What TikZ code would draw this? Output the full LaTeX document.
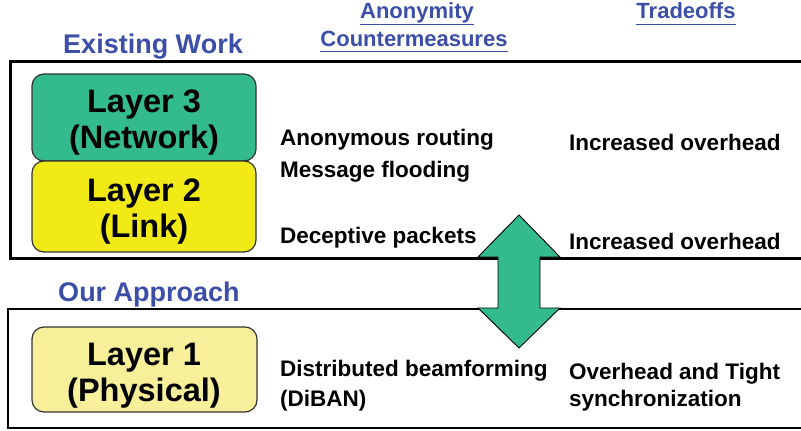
\documentclass[tikz,border=0pt]{standalone}
\usepackage{fontspec}
\setmainfont{Liberation Sans}
\definecolor{hdrblue}{HTML}{3B4FA8}
\definecolor{netgreen}{HTML}{33BB8E}
\definecolor{linkyellow}{HTML}{F2EA16}
\definecolor{physyellow}{HTML}{F7EF9A}
\begin{document}
\begin{tikzpicture}[x=1pt,y=-1pt,
  txt/.style={anchor=base west, inner sep=0pt, font=\fontsize{22.5}{27}\selectfont\bfseries},
  hdr/.style={anchor=base, inner sep=0pt, text=hdrblue, font=\fontsize{22}{26}\selectfont\bfseries},
  ttl/.style={anchor=base, inner sep=0pt, text=hdrblue, font=\fontsize{27}{32}\selectfont\bfseries},
  lyr/.style={anchor=base, inner sep=0pt, font=\fontsize{32.5}{36}\selectfont\bfseries},
  layerbox/.style={draw=black!80, line width=1.2pt, rounded corners=12pt},
  framebox/.style={draw=black, line width=3pt},
  uline/.style={draw=hdrblue, line width=1.8pt}]
\useasboundingbox (0,0) rectangle (801,431);

% column headers
\node[hdr] (h1) at (417,19) {Anonymity};
\node[hdr] (h2) at (414,46) {Countermeasures};
\node[hdr] (h3) at (686,19) {Tradeoffs};
\foreach \h in {h1,h2,h3}
  \draw[uline] ([yshift=-5.5pt]\h.base west) -- ([yshift=-5.5pt]\h.base east);

% section titles
\node[ttl] (ew) at (153,53) {Existing Work};
\node[ttl] (oa) at (149,301) {Our Approach};

% frames
\draw[framebox] (801,61) -- (10,61) -- (10,258) -- (801,258);
\draw[framebox, line width=2.5pt] (801,309) -- (8,309) -- (8,428) -- (801,428);

% layer boxes
\draw[layerbox, fill=netgreen] (32,74) rectangle (256,161);
\draw[layerbox, fill=linkyellow] (32,161) rectangle (256,252);
\draw[layerbox, fill=physyellow] (32,327) rectangle (257,412);

\node[lyr] (l3a) at (144,112) {Layer 3};
\node[lyr] (l3b) at (144,148) {(Network)};
\node[lyr] (l2a) at (144,201) {Layer 2};
\node[lyr] (l2b) at (144,237) {(Link)};
\node[lyr] (l1a) at (144,365) {Layer 1};
\node[lyr] (l1b) at (144,401) {(Physical)};

% countermeasures
\node[txt] (c1) at (280,145) {Anonymous routing};
\node[txt] (c2) at (280,177) {Message flooding};
\node[txt] (c3) at (280,243) {Deceptive packets};
\node[txt] (c4) at (280,376) {Distributed beamforming};
\node[txt] (c5) at (280,406) {(DiBAN)};

% tradeoffs
\node[txt] (t1) at (569,150) {Increased overhead};
\node[txt] (t2) at (569,249) {Increased overhead};
\node[txt] (t3) at (569,379) {Overhead and Tight};
\node[txt] (t4) at (569,406) {synchronization};

% double-headed block arrow
\draw[fill=netgreen, draw=black, line width=0.9pt, line join=miter]
  (519,215) -- (560,257) -- (540,257) -- (540,308) -- (560,308) -- (519,348)
  -- (478,308) -- (498,308) -- (498,257) -- (478,257) -- cycle;
\end{tikzpicture}
\end{document}
